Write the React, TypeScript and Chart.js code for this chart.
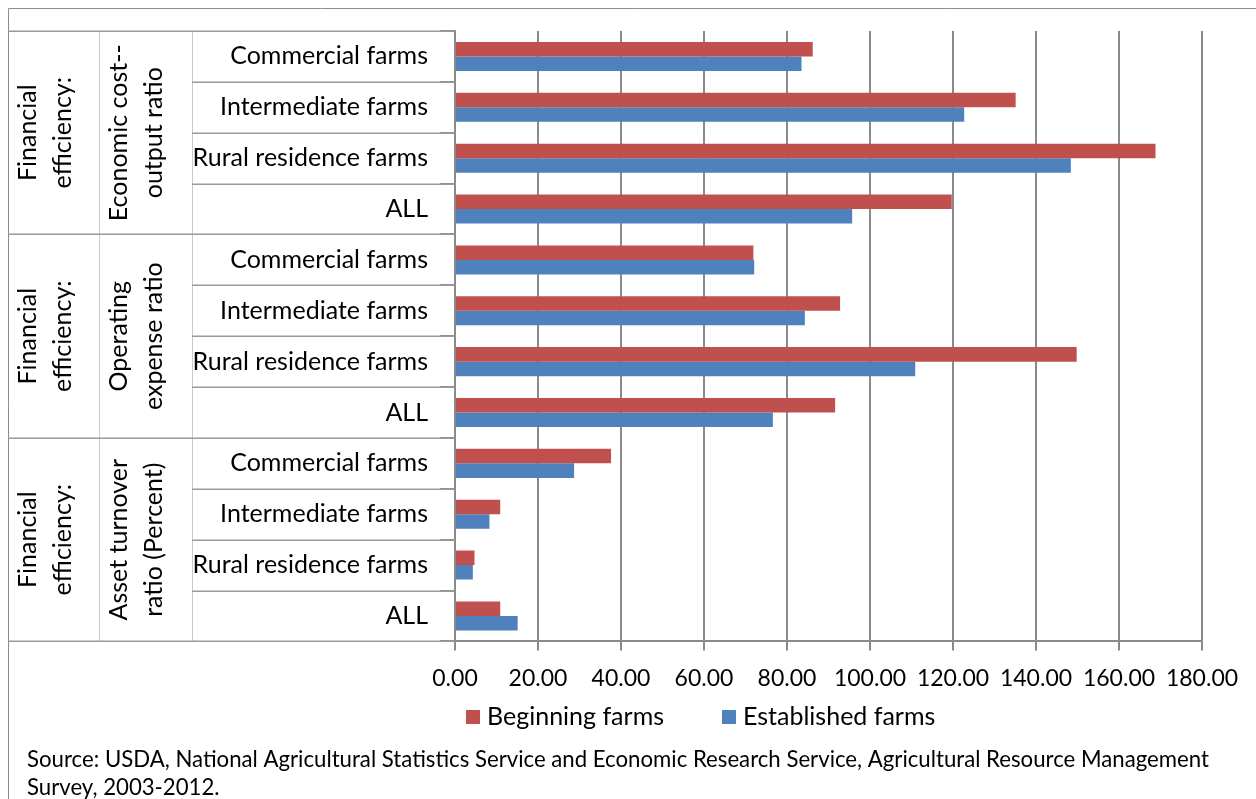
import { useEffect, useRef } from 'react';
import { Chart, registerables } from 'chart.js';

Chart.register(...registerables);

// Innermost category level, repeated under every measure
const farmTypes = ['Commercial farms', 'Intermediate farms', 'Rural residence farms', 'ALL'];

// Middle category level: one wrapped label per measure
const measures = [
  ['Economic cost--', 'output ratio'],
  ['Operating', 'expense ratio'],
  ['Asset turnover', 'ratio (Percent)'],
];

// Outer category level, shared by every measure
const groupLabel = ['Financial', 'efficiency:'];

const seriesNames = ['Beginning farms', 'Established farms'];
const seriesColors = ['#C0504D', '#4F81BD'];

const beginningFarms = [86.2, 135.1, 168.8, 119.7, 71.9, 92.8, 149.8, 91.6, 37.6, 10.9, 4.7, 10.9];
const establishedFarms = [83.5, 122.7, 148.4, 95.7, 72.1, 84.3, 110.9, 76.6, 28.7, 8.3, 4.3, 15.1];

const xMin = 0;
const xMax = 180;
const xStep = 20;

const sourceNote = [
  'Source: USDA, National Agricultural Statistics Service and Economic Research Service, Agricultural Resource Management',
  'Survey, 2003-2012.',
];

const categories = measures.flatMap((m) => farmTypes.map((f) => `${m.join(' ')} | ${f}`));

// Page / drawing layout
const W = 1256;
const H = 799;
const FONT = 'Lato, "Open Sans", sans-serif';
const LABEL_SIZE = 25;
const TICK_SIZE = 23;
const NOTE_SIZE = 22.2;
const FRAME_X = 8;
const FRAME_Y = 8;
const COL1_X = 99;
const COL2_X = 192;
const FRAME_COLOR = '#8c8c8c';
const AXIS_COLOR = '#8a8a8a';
const SEP_COLOR = '#9a9a9a';
const COL_COLOR = '#c9c9c9';

const hierarchyPlugin = {
  id: 'categoryHierarchy',
  afterDraw(chart: any) {
    const { ctx, chartArea: area } = chart;
    const yScale = chart.scales.y;
    const rows = chart.data.labels.length;
    const half = Math.abs(yScale.getPixelForValue(1) - yScale.getPixelForValue(0)) / 2;
    const edge = (i: number) =>
      i < rows ? yScale.getPixelForValue(i) - half : yScale.getPixelForValue(rows - 1) + half;
    const axisX = area.left;
    const perGroup = farmTypes.length;

    ctx.save();

    // chart frame (left and top edges)
    ctx.strokeStyle = FRAME_COLOR;
    ctx.lineWidth = 1;
    ctx.beginPath();
    ctx.moveTo(FRAME_X + 0.5, H);
    ctx.lineTo(FRAME_X + 0.5, FRAME_Y + 0.5);
    ctx.lineTo(W, FRAME_Y + 0.5);
    ctx.stroke();

    // column separators of the label table
    ctx.strokeStyle = COL_COLOR;
    ctx.beginPath();
    [COL1_X, COL2_X].forEach((x) => {
      ctx.moveTo(x + 0.5, Math.round(edge(0)));
      ctx.lineTo(x + 0.5, Math.round(edge(rows)));
    });
    ctx.stroke();

    // row separators: full width between measures, inner column otherwise
    ctx.strokeStyle = SEP_COLOR;
    ctx.lineWidth = 1.5;
    for (let i = 0; i <= rows; i++) {
      const yy = Math.round(edge(i)) + 0.25;
      const fromX = i % perGroup === 0 ? FRAME_X : COL2_X;
      ctx.beginPath();
      ctx.moveTo(fromX, yy);
      ctx.lineTo(axisX, yy);
      ctx.stroke();
    }

    ctx.fillStyle = '#000';
    ctx.font = `${LABEL_SIZE}px ${FONT}`;

    // farm type labels
    ctx.textAlign = 'right';
    ctx.textBaseline = 'middle';
    chart.data.labels.forEach((_: string, i: number) => {
      ctx.fillText(farmTypes[i % perGroup], axisX - 27, yScale.getPixelForValue(i));
    });

    // rotated outer and middle labels
    const drawRotated = (lines: string[], left: number, cy: number) => {
      ctx.save();
      ctx.translate(0, cy);
      ctx.rotate(-Math.PI / 2);
      ctx.textAlign = 'center';
      ctx.textBaseline = 'alphabetic';
      lines.forEach((line, k) => {
        ctx.fillText(line, 0, left + 27.5 + k * 35.5);
      });
      ctx.restore();
    };
    measures.forEach((m, g) => {
      const cy = (edge(g * perGroup) + edge((g + 1) * perGroup)) / 2;
      drawRotated(groupLabel, FRAME_X, cy);
      drawRotated(m, COL1_X, cy);
    });

    // legend
    const legendY = 717;
    let lx = axisX + 11;
    ctx.textAlign = 'left';
    ctx.textBaseline = 'middle';
    chart.data.datasets.forEach((ds: any) => {
      ctx.fillStyle = ds.backgroundColor;
      ctx.fillRect(lx, legendY - 7, 14, 14);
      ctx.fillStyle = '#000';
      ctx.fillText(ds.label, lx + 21, legendY);
      lx += 256;
    });

    // source note
    ctx.font = `${NOTE_SIZE}px ${FONT}`;
    sourceNote.forEach((line, k) => {
      ctx.fillText(line, 27, 760 + k * 28);
    });

    ctx.restore();
  },
};

export default function App() {
  const canvasRef = useRef<HTMLCanvasElement | null>(null);

  useEffect(() => {
    const canvas = canvasRef.current;
    if (!canvas) return;
    const chart = new Chart(canvas, {
      type: 'bar',
      data: {
        labels: categories,
        datasets: [
          { label: seriesNames[0], data: beginningFarms, backgroundColor: seriesColors[0] },
          { label: seriesNames[1], data: establishedFarms, backgroundColor: seriesColors[1] },
        ],
      },
      options: {
        indexAxis: 'y',
        responsive: false,
        animation: false,
        devicePixelRatio: 1,
        layout: { padding: { left: 440, right: 54, top: 31, bottom: 93 } },
        datasets: {
          bar: { categoryPercentage: 0.571, barPercentage: 1, borderWidth: 0 },
        },
        plugins: {
          legend: { display: false },
          tooltip: { enabled: false },
        },
        scales: {
          x: {
            type: 'linear',
            min: xMin,
            max: xMax,
            ticks: {
              stepSize: xStep,
              color: '#000',
              padding: 14,
              font: { family: FONT, size: TICK_SIZE },
              callback: (v: any) => Number(v).toFixed(2),
            },
            grid: { color: AXIS_COLOR, lineWidth: 2, tickLength: 9 },
            border: { color: AXIS_COLOR, width: 2 },
          },
          y: {
            type: 'category',
            offset: true,
            ticks: { display: false },
            grid: { offset: true, drawOnChartArea: false, color: AXIS_COLOR, lineWidth: 2, tickLength: 15 },
            border: { color: AXIS_COLOR, width: 2 },
          },
        },
      },
      plugins: [hierarchyPlugin],
    });
    return () => chart.destroy();
  }, []);

  return (
    <div style={{ position: 'fixed', left: 0, top: 0, width: W, height: H, background: '#fff', overflow: 'hidden' }}>
      <canvas ref={canvasRef} width={W} height={H} style={{ display: 'block', width: W, height: H }} />
    </div>
  );
}
